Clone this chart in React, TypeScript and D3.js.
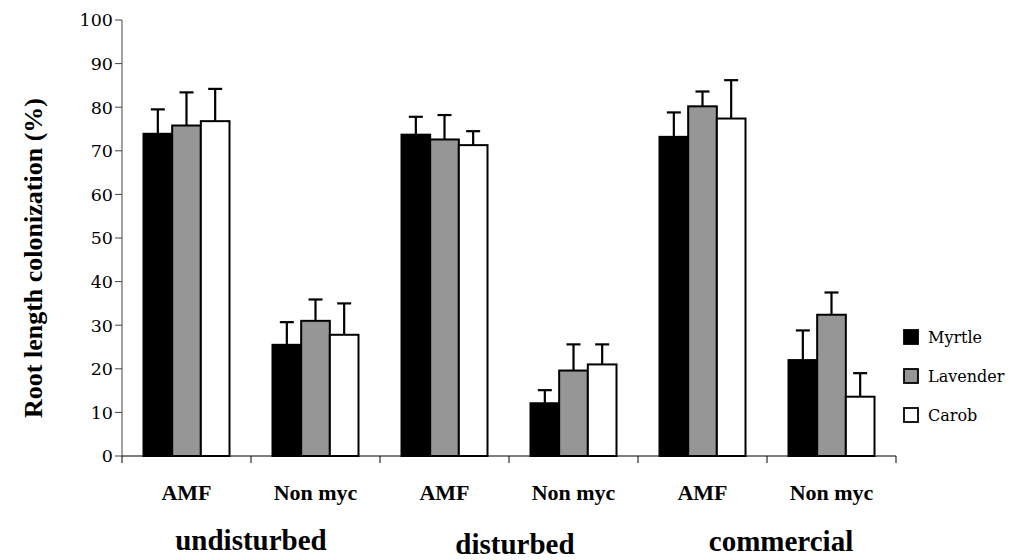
import React from "react";
import * as d3 from "d3";

// Treatments (x categories), grouped by site
const categories = ["AMF", "Non myc", "AMF", "Non myc", "AMF", "Non myc"];
const sites = ["undisturbed", "disturbed", "commercial"];
const seriesNames = ["Myrtle", "Lavender", "Carob"];

// Mean root length colonization (%) and error (+) per category
const myrtle = [73.9, 25.5, 73.7, 12.1, 73.2, 22.0];
const myrtleErr = [5.6, 5.2, 4.1, 3.0, 5.6, 6.8];
const lavender = [75.8, 31.0, 72.6, 19.6, 80.2, 32.4];
const lavenderErr = [7.6, 4.9, 5.6, 6.0, 3.4, 5.1];
const carob = [76.8, 27.8, 71.3, 21.0, 77.4, 13.6];
const carobErr = [7.4, 7.2, 3.2, 4.6, 8.8, 5.4];

const yTicks = [0, 10, 20, 30, 40, 50, 60, 70, 80, 90, 100];

const W = 1029;
const H = 560;
const BOLD_FONT = "'Liberation Serif', serif";
const REG_FONT = "'DejaVu Serif', serif";

const series = [
  { name: seriesNames[0], values: myrtle, errs: myrtleErr, fill: "#000000" },
  { name: seriesNames[1], values: lavender, errs: lavenderErr, fill: "#969696" },
  { name: seriesNames[2], values: carob, errs: carobErr, fill: "#ffffff" },
];

export default function App() {
  const left = 122;
  const right = 896;
  const top = 20;
  const bottom = 456;

  const x = d3
    .scaleBand<number>()
    .domain(categories.map((_, i) => i))
    .range([left, right]);
  const y = d3.scaleLinear().domain([0, 100]).range([bottom, top]);

  // Excel-style clustering: 150% gap width between clusters
  const band = x.bandwidth();
  const barW = band / 4.5;
  const offset = barW * 0.75;

  const siteLabelPos = [
    { x: x(0)! + band, y: 550 },
    { x: x(2)! + band + 6, y: 554 },
    { x: x(4)! + band + 14, y: 551 },
  ];

  return (
    <svg
      width={W}
      height={H}
      style={{ position: "absolute", left: 0, top: 0, background: "#fff" }}
    >
      {/* bars with error bars */}
      {series.map((s, si) => (
        <g key={s.name}>
          {s.values.map((v, ci) => {
            const bx = x(ci)! + offset + si * barW;
            const cx = bx + barW / 2;
            const yTop = y(v);
            const yErr = y(v + s.errs[ci]);
            return (
              <g key={ci}>
                <line x1={cx} x2={cx} y1={yTop} y2={yErr} stroke="#000" strokeWidth={2.2} />
                <line x1={cx - 7} x2={cx + 7} y1={yErr} y2={yErr} stroke="#000" strokeWidth={2.2} />
                <rect
                  x={bx}
                  y={yTop}
                  width={barW}
                  height={bottom - yTop}
                  fill={s.fill}
                  stroke="#000"
                  strokeWidth={2}
                />
              </g>
            );
          })}
        </g>
      ))}

      {/* y axis */}
      <line x1={left} x2={left} y1={top} y2={bottom} stroke="#444" strokeWidth={1} />
      {yTicks.map((t) => (
        <g key={t}>
          <line x1={left - 7} x2={left} y1={y(t)} y2={y(t)} stroke="#444" strokeWidth={1} />
          <text
            x={left - 9}
            y={y(t)}
            dy="0.36em"
            textAnchor="end"
            fontSize={17.5}
            fill="#000"
            style={{ fontFamily: REG_FONT }}
          >
            {t}
          </text>
        </g>
      ))}

      {/* x axis */}
      <line x1={left} x2={right} y1={bottom} y2={bottom} stroke="#000" strokeWidth={1} />
      {d3.range(categories.length + 1).map((i) => {
        const tx = i < categories.length ? x(i)! : right;
        return (
          <line key={i} x1={tx} x2={tx} y1={bottom} y2={bottom + 7} stroke="#000" strokeWidth={1} />
        );
      })}
      {categories.map((c, i) => (
        <text
          key={i}
          x={x(i)! + band / 2}
          y={500}
          textAnchor="middle"
          fontWeight="bold"
          fontSize={22}
          style={{ fontFamily: BOLD_FONT }}
        >
          {c}
        </text>
      ))}
      {sites.map((s, i) => (
        <text
          key={s}
          x={siteLabelPos[i].x}
          y={siteLabelPos[i].y}
          textAnchor="middle"
          fontWeight="bold"
          fontSize={29}
          style={{ fontFamily: BOLD_FONT }}
        >
          {s}
        </text>
      ))}

      {/* y axis title */}
      <text
        transform={`translate(42, ${(top + bottom) / 2 + 20}) rotate(-90)`}
        textAnchor="middle"
        fontWeight="bold"
        fontSize={26}
        style={{ fontFamily: BOLD_FONT }}
      >
        Root length colonization (%)
      </text>

      {/* legend */}
      {series.map((s, i) => {
        const ly = 337 + i * 39;
        return (
          <g key={s.name}>
            <rect x={904} y={ly - 7} width={14} height={14} fill={s.fill} stroke="#000" strokeWidth={1.8} />
            <text x={928} y={ly} dy="0.36em" fontSize={16} style={{ fontFamily: REG_FONT }}>
              {s.name}
            </text>
          </g>
        );
      })}
    </svg>
  );
}
